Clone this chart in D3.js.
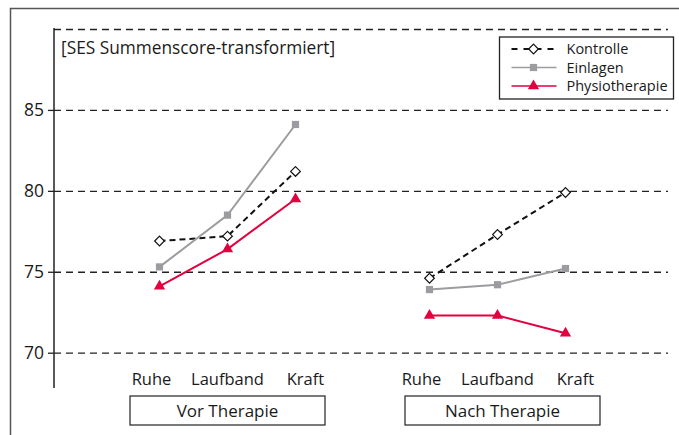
<!DOCTYPE html>
<html>
<head>
<meta charset="utf-8">
<script src="https://cdn.jsdelivr.net/npm/d3@7"></script>
<style>
body { margin: 0; background: #fff; }
text { font-family: "Open Sans", "Noto Sans", sans-serif; fill: #1a1a1a; }
</style>
</head>
<body>
<div class="chart"></div>
<script>
// Data ---------------------------------------------------------------------
const groups = ["Vor Therapie", "Nach Therapie"];
const conditions = ["Ruhe", "Laufband", "Kraft"];
const yTicks = [70, 75, 80, 85];

const kontrolle = [[76.9, 77.2, 81.2], [74.6, 77.3, 79.9]];
const einlagen = [[75.3, 78.5, 84.1], [73.9, 74.2, 75.2]];
const physio = [[74.1, 76.4, 79.5], [72.3, 72.3, 71.2]];

const series = [
  { name: "Kontrolle", values: kontrolle, color: "#111", dash: "6,4", marker: "diamond" },
  { name: "Einlagen", values: einlagen, color: "#9c9ca0", dash: null, marker: "square" },
  { name: "Physiotherapie", values: physio, color: "#e4003f", dash: null, marker: "triangle" }
];

// SVG Dimensions ---------------------------------------------------------------------
const width = 679;
const height = 435;
const margin = { top: 28, right: 11, bottom: 82, left: 54 };

const svg = d3.select(".chart")
  .append("svg")
  .attr("width", width)
  .attr("height", height);

// outer frame (left + top edge)
svg.append("path")
  .attr("d", `M10.5,${height} V8.5 H${width}`)
  .attr("fill", "none")
  .attr("stroke", "#555")
  .attr("stroke-width", 1.5);

// Scales ---------------------------------------------------------------------
const yScale = d3.scaleLinear()
  .domain([70, 90])
  .range([352.7, 29]);

const groupScale = d3.scaleBand()
  .domain(groups)
  .range([90, 640])
  .paddingInner(0)
  .paddingOuter(0);

const xInner = d3.scalePoint()
  .domain(conditions)
  .range([-68, 68]);

const gx = g => groupScale(g) + groupScale.bandwidth() / 2 - (g === groups[1] ? 5 : 0);
const xPos = (g, c) => gx(g) + xInner(c);

// Grid ---------------------------------------------------------------------
const yGrid = d3.axisLeft(yScale)
  .tickValues([70, 75, 80, 85, 90])
  .tickSize(-(width - margin.left - margin.right))
  .tickFormat("");

svg.append("g")
  .attr("class", "grid")
  .attr("transform", `translate(${margin.left},0)`)
  .call(yGrid)
  .call(g => g.select(".domain").remove())
  .call(g => g.selectAll("line")
    .attr("stroke", "#222")
    .attr("stroke-width", 1.3)
    .attr("stroke-dasharray", "7,5"));

// Y axis ---------------------------------------------------------------------
const yAxis = d3.axisLeft(yScale)
  .tickValues(yTicks)
  .tickSize(6)
  .tickPadding(4);

svg.append("g")
  .attr("class", "axis")
  .attr("transform", `translate(${margin.left},0)`)
  .call(yAxis)
  .call(g => g.select(".domain").remove())
  .call(g => g.selectAll("line").attr("stroke", "#222").attr("stroke-width", 1.3))
  .call(g => g.selectAll("text").attr("font-size", 17.5).style("fill", "#1a1a1a"));

svg.append("line")
  .attr("x1", margin.left).attr("x2", margin.left)
  .attr("y1", 28).attr("y2", 388)
  .attr("stroke", "#222")
  .attr("stroke-width", 1.5);

// title
svg.append("text")
  .attr("x", 61)
  .attr("y", 54)
  .attr("font-size", 17.3)
  .text("[SES Summenscore-transformiert]");

// X labels ---------------------------------------------------------------------
groups.forEach(g => {
  svg.append("g")
    .selectAll("text")
    .data(conditions)
    .join("text")
    .attr("x", c => xPos(g, c) + (c === "Kraft" ? 10 : c === "Ruhe" ? -8 : 0))
    .attr("y", 385)
    .attr("text-anchor", "middle")
    .attr("font-size", 16.5)
    .text(c => c);

  const bx = groupScale(g) + groupScale.bandwidth() / 2;
  svg.append("rect")
    .attr("x", bx - 97.5)
    .attr("y", 396)
    .attr("width", 195)
    .attr("height", 29)
    .attr("fill", "none")
    .attr("stroke", "#222")
    .attr("stroke-width", 1.2);
  svg.append("text")
    .attr("x", bx)
    .attr("y", 417)
    .attr("text-anchor", "middle")
    .attr("font-size", 17)
    .text(g);
});

// Lines ---------------------------------------------------------------------
const symbolFor = m => m === "diamond" ? d3.symbol(d3.symbolDiamond2, 60)
  : m === "square" ? d3.symbol(d3.symbolSquare, 52)
  : d3.symbol(d3.symbolTriangle, 55);

const drawMarker = (sel, s) => {
  sel.attr("d", symbolFor(s.marker)())
    .attr("fill", s.marker === "diamond" ? "#fff" : s.color)
    .attr("stroke", s.marker === "diamond" ? "#111" : "none")
    .attr("stroke-width", 1.2);
};

const line = d3.line()
  .x(d => d.x)
  .y(d => yScale(d.v));

series.forEach(s => {
  groups.forEach((g, gi) => {
    const pts = conditions.map((c, ci) => ({ x: xPos(g, c), v: s.values[gi][ci] }));
    svg.append("path")
      .datum(pts)
      .attr("d", line)
      .attr("fill", "none")
      .attr("stroke", s.color)
      .attr("stroke-width", 2)
      .attr("stroke-dasharray", s.dash);
    svg.append("g")
      .selectAll("path")
      .data(pts)
      .join("path")
      .attr("transform", d => `translate(${d.x},${yScale(d.v)})`)
      .call(drawMarker, s);
  });
});

// Legend ---------------------------------------------------------------------
const legend = svg.append("g").attr("transform", "translate(499.5,37)");
legend.append("rect")
  .attr("width", 174)
  .attr("height", 62)
  .attr("fill", "#fff")
  .attr("stroke", "#222")
  .attr("stroke-width", 1.3);

const items = legend.selectAll("g")
  .data(series)
  .join("g")
  .attr("transform", (d, i) => `translate(0,${12 + i * 18.5})`);

items.append("line")
  .attr("x1", 12).attr("x2", 57)
  .attr("stroke", d => d.color)
  .attr("stroke-width", d => d.dash ? 2 : 1.5)
  .attr("stroke-dasharray", d => d.dash ? "6,6" : null);

items.each(function(d) {
  d3.select(this).append("path")
    .attr("transform", "translate(34,0)")
    .call(drawMarker, d);
});

items.append("text")
  .attr("x", 67)
  .attr("y", 5)
  .attr("font-size", 14.5)
  .text(d => d.name);
</script>
</body>
</html>
